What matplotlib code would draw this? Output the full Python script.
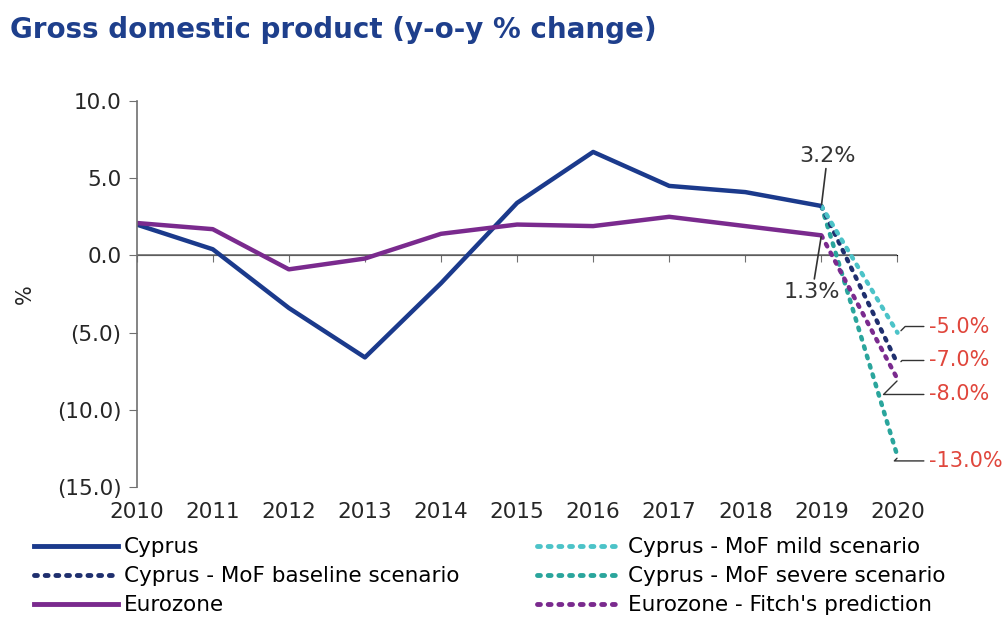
import numpy as np
import matplotlib.pyplot as plt
from matplotlib.lines import Line2D

plt.rcParams['font.family'] = ['DejaVu Sans']

years = np.arange(2010, 2020)
cyprus = [2.0, 0.4, -3.4, -6.6, -1.8, 3.4, 6.7, 4.5, 4.1, 3.2]
eurozone = [2.1, 1.7, -0.9, -0.2, 1.4, 2.0, 1.9, 2.5, 1.9, 1.3]

fc_years = [2019, 2020]
cy_baseline = [3.2, -7.0]
cy_mild = [3.2, -5.0]
cy_severe = [3.2, -13.0]
ez_fitch = [1.3, -8.0]

xticks = list(range(2010, 2021))
yticks = [10, 5, 0, -5, -10, -15]
ylabels = ['10.0', '5.0', '0.0', '(5.0)', '(10.0)', '(15.0)']

navy = '#1b3a8c'
purple = '#7a2a8e'
teal_mild = '#4cc3c8'
teal_sev = '#2aa59c'
dark_dot = '#1f2f6e'
red = '#e0463c'
grey = '#707070'
txt = '#262626'

fig = plt.figure(figsize=(10.05, 6.27), dpi=100)
ax = fig.add_axes([0.136, 0.223, 0.757, 0.616])

dot = (0, (0.6, 1.6))
ax.plot(fc_years, cy_severe, color=teal_sev, lw=3.2, ls=dot, dash_capstyle='round', clip_on=False)
ax.plot(fc_years, ez_fitch, color=purple, lw=3.2, ls=dot, dash_capstyle='round', clip_on=False)
ax.plot(fc_years, cy_baseline, color=dark_dot, lw=3.2, ls=dot, dash_capstyle='round', clip_on=False)
ax.plot(fc_years, cy_mild, color=teal_mild, lw=3.2, ls=dot, dash_capstyle='round', clip_on=False)
ax.plot(years, cyprus, color=navy, lw=3.2, solid_capstyle='butt')
ax.plot(years, eurozone, color=purple, lw=3.2, solid_capstyle='butt')

ax.set_xlim(2010, 2020)
ax.set_ylim(-15, 10)
ax.set_yticks(yticks)
ax.set_yticklabels(ylabels, fontsize=15.5, color=txt)
ax.set_xticks(xticks)
ax.set_xticklabels([str(x) for x in xticks], fontsize=15.5, color=txt)
ax.tick_params(axis='x', length=0, pad=11)
ax.tick_params(axis='y', length=6, direction='out', color=grey, pad=5)
for s in ['top', 'right', 'bottom']:
    ax.spines[s].set_visible(False)
ax.spines['left'].set_color(grey)
ax.spines['left'].set_linewidth(1.2)

# horizontal axis crossing at zero
ax.axhline(0, color=grey, lw=1.2, zorder=1)
sec = ax.secondary_xaxis(15 / 25)
sec.set_xticks(xticks)
sec.tick_params(axis='x', direction='in', length=5, color=grey, labelbottom=False, labeltop=False)
sec.spines['bottom'].set_visible(False)

ax.set_ylabel('%', fontsize=15, color=txt, labelpad=16)

# value labels
ax.annotate('3.2%', xy=(2019, 3.2), xytext=(2019.08, 5.8), textcoords='data',
            fontsize=16, color='#333333', ha='center', va='bottom',
            arrowprops=dict(arrowstyle='-', color='#333333', lw=1.2, shrinkA=0, shrinkB=1))
ax.annotate('1.3%', xy=(2019, 1.3), xytext=(2018.88, -1.7), textcoords='data',
            fontsize=16, color='#333333', ha='center', va='top',
            arrowprops=dict(arrowstyle='-', color='#333333', lw=1.2, shrinkA=0, shrinkB=1))

red_labels = [(-5.0, cy_mild[1], 0.4), (-7.0, cy_baseline[1], 0.2), (-8.0, ez_fitch[1], -1.0), (-13.0, cy_severe[1], -0.3)]
for val, y, dy in red_labels:
    ax.annotate(f'{val:.1f}%', xy=(2020.02, y), xytext=(2020.42, y + dy), textcoords='data',
                fontsize=15, color=red, ha='left', va='center', annotation_clip=False,
                arrowprops=dict(arrowstyle='-', color='#333333', lw=1.0, shrinkA=2, shrinkB=2,
                                connectionstyle='angle,angleA=0,angleB=45,rad=0'))

fig.text(0.01, 0.952, 'Gross domestic product (y-o-y % change)', fontsize=20,
         fontweight='bold', color='#1e3f8c', ha='left', va='center')

handles = [
    Line2D([], [], color=navy, lw=3.5),
    Line2D([], [], color=dark_dot, lw=3.5, ls=dot, dash_capstyle='round'),
    Line2D([], [], color=purple, lw=3.5),
    Line2D([], [], color=teal_mild, lw=3.5, ls=dot, dash_capstyle='round'),
    Line2D([], [], color=teal_sev, lw=3.5, ls=dot, dash_capstyle='round'),
    Line2D([], [], color=purple, lw=3.5, ls=dot, dash_capstyle='round'),
]
labels = ['Cyprus', 'Cyprus - MoF baseline scenario', 'Eurozone',
          'Cyprus - MoF mild scenario', 'Cyprus - MoF severe scenario', "Eurozone - Fitch's prediction"]
fig.legend(handles, labels, ncol=2, loc='upper left', bbox_to_anchor=(0.025, 0.157),
           frameon=False, fontsize=15.5, handlelength=3.9, handletextpad=0.3,
           labelspacing=0.42, columnspacing=3.6, borderaxespad=0)

fig.savefig('out.png', dpi=100)
